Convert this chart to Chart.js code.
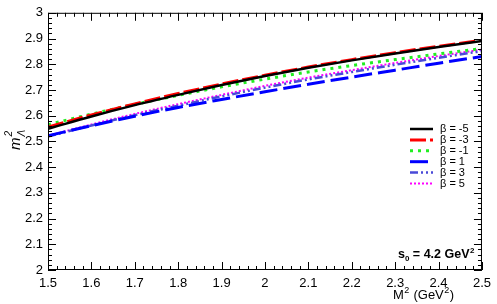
<!DOCTYPE html>
<html>
<head>
<meta charset="utf-8">
<script src="https://cdn.jsdelivr.net/npm/chart.js@4"></script>
<style>
  html, body { margin: 0; padding: 0; background: #fff; }
  #wrap { width: 497px; height: 304px; }
</style>
</head>
<body>
<div id="wrap"><canvas id="myChart" width="497" height="304"></canvas></div>
<script>
// M^2 (GeV^2)
const mSq = [1.5, 1.6, 1.7, 1.8, 1.9, 2.0, 2.1, 2.2, 2.3, 2.4, 2.5];

// m_Lambda^2 for each beta
const betaM5 = [2.549, 2.597, 2.641, 2.681, 2.719, 2.754, 2.786, 2.815, 2.842, 2.867, 2.890];
const betaM3 = [2.556, 2.603, 2.646, 2.686, 2.723, 2.757, 2.789, 2.818, 2.845, 2.870, 2.893];
const betaM1 = [2.565, 2.606, 2.644, 2.679, 2.712, 2.742, 2.770, 2.795, 2.818, 2.840, 2.861];
const betaP1 = [2.522, 2.561, 2.598, 2.632, 2.663, 2.693, 2.722, 2.750, 2.777, 2.804, 2.830];
const betaP3 = [2.519, 2.562, 2.602, 2.639, 2.675, 2.709, 2.741, 2.770, 2.798, 2.825, 2.851];
const betaP5 = [2.522, 2.566, 2.607, 2.645, 2.681, 2.716, 2.748, 2.777, 2.805, 2.832, 2.857];

const legendLabels = ["β = -5", "β = -3", "β = -1", "β = 1", "β = 3", "β = 5"];

const xTickVals = [1.5, 1.6, 1.7, 1.8, 1.9, 2.0, 2.1, 2.2, 2.3, 2.4, 2.5];
const xTickLabels = ["1.5", "1.6", "1.7", "1.8", "1.9", "2", "2.1", "2.2", "2.3", "2.4", "2.5"];
const yTickVals = [2.0, 2.1, 2.2, 2.3, 2.4, 2.5, 2.6, 2.7, 2.8, 2.9, 3.0];
const yTickLabels = ["2", "2.1", "2.2", "2.3", "2.4", "2.5", "2.6", "2.7", "2.8", "2.9", "3"];

const FONT = "'Liberation Sans', Arial, sans-serif";

function pts(ys) {
    return mSq.map((x, i) => ({ x: x, y: ys[i] }));
}

function line(label, ys, color, width, dash) {
    return {
        label: label,
        data: pts(ys),
        borderColor: color,
        backgroundColor: color,
        borderWidth: width,
        borderDash: dash,
        pointRadius: 0,
        fill: false,
        cubicInterpolationMode: "monotone"
    };
}

// ticks inside the frame on all four sides, like ROOT
const frameTicks = {
    id: "frameTicks",
    afterDraw(c) {
        const ctx = c.ctx;
        const a = c.chartArea;
        const xs = c.scales.x, ys = c.scales.y;
        ctx.save();
        ctx.strokeStyle = "#000";
        ctx.lineWidth = 1;
        ctx.strokeRect(a.left + 0.5, a.top + 0.5, a.right - a.left - 1, a.bottom - a.top - 1);
        ctx.beginPath();
        for (let k = 0; k <= 50; k++) {
            const major = k % 5 === 0;
            const len = major ? 8 : 4;
            const px = Math.round(xs.getPixelForValue(1.5 + k * 0.02)) + 0.5;
            ctx.moveTo(px, a.bottom); ctx.lineTo(px, a.bottom - len);
            ctx.moveTo(px, a.top); ctx.lineTo(px, a.top + len);
            const py = Math.round(ys.getPixelForValue(2 + k * 0.02)) + 0.5;
            ctx.moveTo(a.left, py); ctx.lineTo(a.left + len, py);
            ctx.moveTo(a.right, py); ctx.lineTo(a.right - len, py);
        }
        ctx.stroke();

        // legend
        ctx.font = "11px " + FONT;
        ctx.textBaseline = "middle";
        c.data.datasets.forEach((ds, i) => {
            const y = 129 + i * 10.9;
            ctx.beginPath();
            ctx.strokeStyle = ds.borderColor;
            ctx.lineWidth = ds.borderWidth;
            ctx.setLineDash(ds.borderDash || []);
            ctx.moveTo(410, y); ctx.lineTo(433, y);
            ctx.stroke();
            ctx.setLineDash([]);
            ctx.fillStyle = "#000";
            ctx.fillText(legendLabels[i], 440, y);
        });

        // annotation s0 = 4.2 GeV^2
        ctx.textBaseline = "alphabetic";
        ctx.fillStyle = "#000";
        let x = 398, y = 258;
        ctx.font = "bold 12.5px " + FONT;
        ctx.fillText("s", x, y); x += ctx.measureText("s").width;
        ctx.font = "bold 8px " + FONT;
        ctx.fillText("0", x, y + 3); x += ctx.measureText("0").width;
        ctx.font = "bold 12.5px " + FONT;
        ctx.fillText(" = 4.2 GeV", x, y); x += ctx.measureText(" = 4.2 GeV").width;
        ctx.font = "bold 8px " + FONT;
        ctx.fillText("2", x + 0.5, y - 5);

        // x title M^2 (GeV^2)
        x = 393; y = 299;
        ctx.font = "13px " + FONT;
        ctx.fillText("M", x, y); x += ctx.measureText("M").width;
        ctx.font = "9px " + FONT;
        ctx.fillText("2", x + 0.5, y - 6); x += ctx.measureText("2").width + 1;
        ctx.font = "13px " + FONT;
        ctx.fillText(" (GeV", x, y); x += ctx.measureText(" (GeV").width;
        ctx.font = "9px " + FONT;
        ctx.fillText("2", x + 0.5, y - 6); x += ctx.measureText("2").width + 1;
        ctx.font = "13px " + FONT;
        ctx.fillText(")", x, y);

        // y title m_Lambda^2, rotated
        ctx.translate(20, 150);
        ctx.rotate(-Math.PI / 2);
        ctx.font = "italic 15px " + FONT;
        ctx.fillText("m", 0, 0);
        const w = ctx.measureText("m").width;
        ctx.font = "italic 10px " + FONT;
        ctx.fillText("2", w + 1, -8);
        ctx.fillText("Λ", w + 1, 5);
        ctx.restore();
    }
};

const chart = new Chart(document.getElementById("myChart"), {
    type: "line",
    data: {
        datasets: [
            line(legendLabels[0], betaM5, "#000000", 2.5, []),
            line(legendLabels[1], betaM3, "#ff0000", 3, [16, 4]),
            line(legendLabels[2], betaM1, "#22ee22", 3, [3, 5]),
            line(legendLabels[3], betaP1, "#0000ff", 3, [18, 6]),
            line(legendLabels[4], betaP3, "#4a4ad8", 2.5, [8, 3, 2, 3, 2, 3]),
            line(legendLabels[5], betaP5, "#ff00ff", 2, [2, 2])
        ]
    },
    options: {
        responsive: false,
        animation: false,
        layout: { padding: { top: 5, right: 8, left: 0, bottom: 0 } },
        plugins: { legend: { display: false }, tooltip: { enabled: false } },
        scales: {
            x: {
                type: "linear",
                min: 1.5,
                max: 2.5,
                afterBuildTicks: s => { s.ticks = xTickVals.map(v => ({ value: v })); },
                afterFit: s => { s.height = 34; },
                grid: { display: false, drawTicks: false },
                border: { display: false },
                ticks: {
                    color: "#000",
                    font: { family: FONT, size: 13 },
                    padding: 6,
                    maxRotation: 0,
                    autoSkip: false,
                    callback: (v, i) => xTickLabels[i]
                }
            },
            y: {
                min: 2,
                max: 3,
                afterBuildTicks: s => { s.ticks = yTickVals.map(v => ({ value: v })); },
                afterFit: s => { s.width = 48; },
                grid: { display: false, drawTicks: false },
                border: { display: false },
                ticks: {
                    color: "#000",
                    font: { family: FONT, size: 13 },
                    padding: 5,
                    autoSkip: false,
                    callback: (v, i) => yTickLabels[i]
                }
            }
        }
    },
    plugins: [frameTicks]
});
</script>
</body>
</html>
